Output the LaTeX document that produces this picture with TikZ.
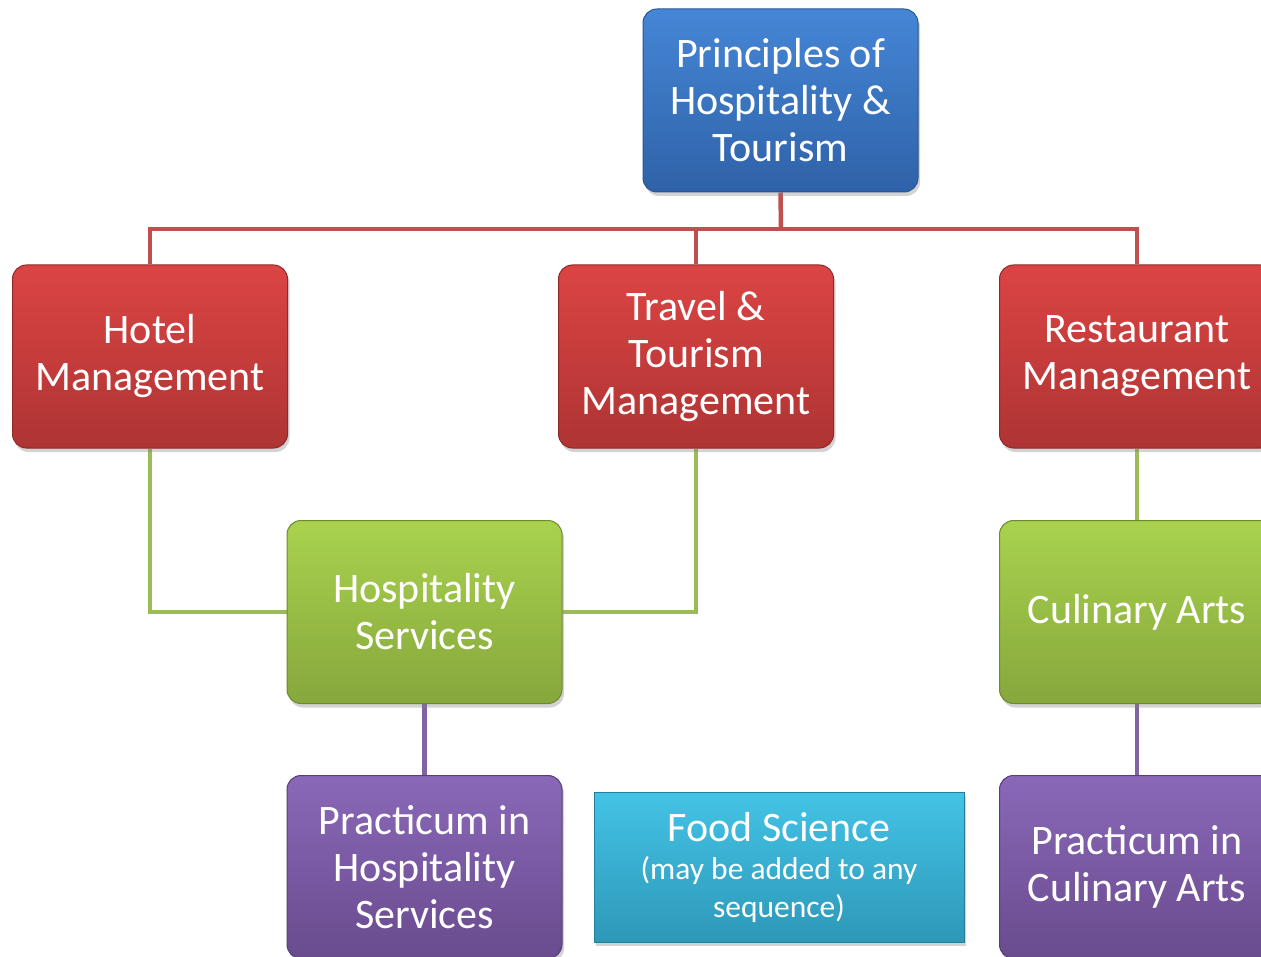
\documentclass[tikz,border=0pt]{standalone}
\usepackage{fontspec}
\setmainfont{Carlito}
\usetikzlibrary{shadows,backgrounds}
\definecolor{bluetop}{HTML}{4586D6}
\definecolor{bluebot}{HTML}{2F62A8}
\definecolor{blueline}{HTML}{2A5590}
\definecolor{redtop}{HTML}{DC4444}
\definecolor{redbot}{HTML}{AE3433}
\definecolor{redline}{HTML}{8E2B2A}
\definecolor{greentop}{HTML}{A9D24E}
\definecolor{greenbot}{HTML}{86A73C}
\definecolor{greenline}{HTML}{6E8A31}
\definecolor{purptop}{HTML}{8A68B8}
\definecolor{purpbot}{HTML}{694B8E}
\definecolor{purpline}{HTML}{573E78}
\definecolor{cyantop}{HTML}{43C3E6}
\definecolor{cyanbot}{HTML}{2E98B8}
\definecolor{cyanline}{HTML}{277E98}
\definecolor{conred}{HTML}{C0504D}
\definecolor{congreen}{HTML}{9BBB59}
\definecolor{conpurple}{HTML}{8064A2}
\begin{document}
\begin{tikzpicture}[x=1pt,y=-1pt,
  box/.style={rounded corners=14pt, minimum width=275pt, minimum height=183pt,
    align=center, text=white, font=\fontsize{42}{47}\selectfont, line width=1pt,
    drop shadow={shadow xshift=2pt, shadow yshift=-4pt, opacity=0.35}},
  bluebox/.style={box, top color=bluetop, bottom color=bluebot, draw=blueline},
  redbox/.style={box, top color=redtop, bottom color=redbot, draw=redline},
  greenbox/.style={box, top color=greentop, bottom color=greenbot, draw=greenline},
  purplebox/.style={box, top color=purptop, bottom color=purpbot, draw=purpline},
  cyanbox/.style={minimum width=370pt, minimum height=150pt, align=center, text=white,
    font=\fontsize{31.5}{38}\selectfont,
    top color=cyantop, bottom color=cyanbot, draw=cyanline, line width=1pt,
    drop shadow={shadow xshift=2pt, shadow yshift=-4pt, opacity=0.35}},
  redcon/.style={draw=conred, line width=4.5pt},
  greencon/.style={draw=congreen, line width=4.5pt},
  purplecon/.style={draw=conpurple, line width=4.5pt}]
\useasboundingbox (0,0) rectangle (1261,957);
\clip (0,0) rectangle (1261,957);
\node[bluebox] (top) at (780.5,100.5) {Principles of\\Hospitality \&\\Tourism};
\node[redbox] (hotel) at (150,356.5) {Hotel\\Management};
\node[redbox] (travel) at (696,356.5) {Travel \&\\Tourism\\Management};
\node[redbox] (rest) at (1137,356.5) {Restaurant\\Management};
\node[greenbox] (hs) at (424.5,612) {Hospitality\\Services};
\node[greenbox] (cul) at (1137,612) {Culinary Arts};
\node[purplebox] (prac1) at (424.5,867) {Practicum in\\Hospitality\\Services};
\node[cyanbox] (food) at (779,867) {{\fontsize{42}{44}\selectfont Food Science}\\[0pt](may be added to any\\sequence)};
\node[purplebox] (prac2) at (1137,867) {Practicum in\\Culinary Arts};
\coordinate (bus) at (781,229);
\begin{pgfonlayer}{background}
\draw[redcon] (top.south) -- (bus);
\draw[redcon] (hotel.north) |- (bus) -| (rest.north);
\draw[redcon] (travel.north) -- (travel.north |- bus);
\draw[greencon] (hotel.south) |- (hs.west);
\draw[greencon] (travel.south) |- (hs.east);
\draw[greencon] (rest.south) -- (cul.north);
\draw[purplecon] (hs.south) -- (prac1.north);
\draw[purplecon] (cul.south) -- (prac2.north);
\end{pgfonlayer}
\end{tikzpicture}
\end{document}
